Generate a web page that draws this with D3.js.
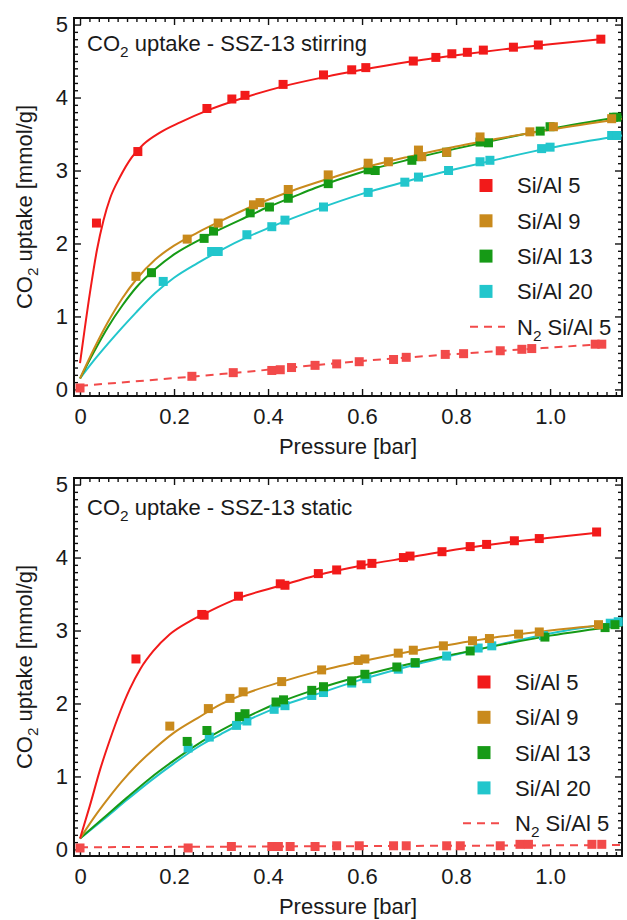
<!DOCTYPE html>
<html>
<head>
<meta charset="utf-8">
<script src="https://cdn.jsdelivr.net/npm/d3@7/dist/d3.min.js"></script>
<style>
  body { margin: 0; background: #fff; }
  svg { display: block; }
  text { font-family: "Liberation Sans", Arial, Helvetica, sans-serif; fill: #1a1a1a; }
</style>
</head>
<body>
<svg id="chart" width="627" height="920"></svg>
<script>
// ---- tick labels & legend ----
const xTicks = [0, 0.2, 0.4, 0.6, 0.8, 1.0];
const yTicks = [0, 1, 2, 3, 4, 5];
const legendLabels = ["Si/Al 5", "Si/Al 9", "Si/Al 13", "Si/Al 20"];

// ---- SSZ-13, stirring: measured points [pressure bar, uptake mmol/g] ----
const stirSi5 = [[0.035,2.28],[0.123,3.26],[0.27,3.85],[0.323,3.98],[0.351,4.03],[0.432,4.18],[0.518,4.31],[0.578,4.38],[0.608,4.41],[0.709,4.50],[0.757,4.55],[0.791,4.60],[0.824,4.62],[0.858,4.65],[0.922,4.69],[0.975,4.72],[1.108,4.80]];
const stirSi9 = [[0.119,1.55],[0.228,2.06],[0.294,2.28],[0.369,2.53],[0.383,2.56],[0.443,2.74],[0.528,2.94],[0.613,3.10],[0.656,3.12],[0.72,3.28],[0.727,3.19],[0.78,3.25],[0.851,3.46],[0.957,3.53],[1.007,3.60],[1.131,3.71]];
const stirSi13 = [[0.152,1.60],[0.264,2.07],[0.284,2.17],[0.362,2.42],[0.403,2.50],[0.443,2.62],[0.528,2.82],[0.613,3.01],[0.628,3.00],[0.706,3.14],[0.72,3.19],[0.78,3.25],[0.851,3.39],[0.869,3.38],[0.979,3.54],[1.0,3.60],[1.135,3.73],[1.142,3.73]];
const stirSi20 = [[0.177,1.48],[0.28,1.89],[0.294,1.89],[0.355,2.12],[0.408,2.23],[0.436,2.32],[0.518,2.50],[0.613,2.70],[0.691,2.84],[0.72,2.91],[0.784,3.00],[0.851,3.12],[0.872,3.14],[0.982,3.30],[1.0,3.32],[1.131,3.48],[1.142,3.48]];
const stirN2 = [[0,0.02],[0.238,0.18],[0.326,0.23],[0.408,0.26],[0.426,0.27],[0.45,0.30],[0.5,0.33],[0.546,0.35],[0.594,0.38],[0.667,0.41],[0.694,0.44],[0.777,0.48],[0.816,0.49],[0.894,0.53],[0.94,0.55],[0.961,0.56],[1.096,0.62],[1.11,0.62]];

// ---- SSZ-13, stirring: fitted isotherm curves ----
const stirFit5 = [[0,0.36],[0.021,1.32],[0.036,1.91],[0.05,2.32],[0.064,2.62],[0.085,2.91],[0.11,3.18],[0.135,3.36],[0.17,3.52],[0.213,3.66],[0.27,3.82],[0.35,4.00],[0.43,4.15],[0.52,4.28],[0.6,4.38],[0.7,4.49],[0.8,4.58],[0.9,4.66],[1.0,4.73],[1.108,4.80]];
const stirFit9 = [[0,0.15],[0.03,0.56],[0.06,0.93],[0.09,1.25],[0.12,1.51],[0.16,1.78],[0.2,1.97],[0.25,2.15],[0.3,2.31],[0.37,2.52],[0.45,2.72],[0.53,2.89],[0.6,3.03],[0.7,3.19],[0.8,3.33],[0.9,3.45],[1.0,3.56],[1.153,3.71]];
const stirFit13 = [[0,0.15],[0.03,0.52],[0.06,0.86],[0.09,1.15],[0.12,1.40],[0.16,1.65],[0.2,1.85],[0.26,2.07],[0.3,2.20],[0.36,2.38],[0.4,2.50],[0.45,2.63],[0.5,2.76],[0.6,2.98],[0.7,3.15],[0.8,3.30],[0.9,3.44],[1.0,3.57],[1.153,3.74]];
const stirFit20 = [[0,0.15],[0.03,0.40],[0.06,0.63],[0.09,0.85],[0.12,1.06],[0.16,1.32],[0.2,1.53],[0.25,1.73],[0.3,1.91],[0.36,2.10],[0.4,2.21],[0.45,2.34],[0.5,2.46],[0.6,2.68],[0.7,2.86],[0.8,3.02],[0.9,3.17],[1.0,3.31],[1.153,3.48]];
const stirFitN2 = [[0,0.05],[0.3,0.21],[0.6,0.39],[0.9,0.53],[1.11,0.62]];

// ---- SSZ-13, static: measured points ----
const statSi5 = [[0.119,2.61],[0.259,3.22],[0.264,3.21],[0.337,3.47],[0.426,3.64],[0.436,3.62],[0.507,3.78],[0.546,3.83],[0.598,3.90],[0.621,3.92],[0.688,4.00],[0.702,4.02],[0.77,4.08],[0.83,4.15],[0.865,4.18],[0.924,4.23],[0.977,4.26],[1.099,4.35]];
const statSi9 = [[0.191,1.69],[0.273,1.93],[0.319,2.07],[0.347,2.16],[0.429,2.30],[0.514,2.46],[0.592,2.59],[0.606,2.61],[0.677,2.69],[0.709,2.73],[0.773,2.79],[0.835,2.86],[0.871,2.89],[0.933,2.95],[0.977,2.98],[1.103,3.08]];
const statSi13 = [[0.228,1.48],[0.27,1.63],[0.339,1.82],[0.351,1.86],[0.417,2.02],[0.433,2.05],[0.493,2.18],[0.518,2.23],[0.578,2.31],[0.606,2.40],[0.674,2.50],[0.713,2.56],[0.83,2.72],[0.989,2.91],[1.117,3.04],[1.138,3.08]];
const statSi20 = [[0.23,1.39],[0.275,1.54],[0.333,1.70],[0.355,1.76],[0.413,1.92],[0.436,1.97],[0.493,2.11],[0.518,2.15],[0.578,2.28],[0.61,2.34],[0.677,2.47],[0.713,2.55],[0.78,2.65],[0.847,2.76],[0.876,2.79],[0.986,2.93],[1.128,3.10],[1.145,3.12]];
const statN2 = [[0,0.02],[0.23,0.02],[0.322,0.04],[0.408,0.04],[0.422,0.04],[0.447,0.04],[0.5,0.04],[0.546,0.05],[0.594,0.05],[0.667,0.05],[0.694,0.05],[0.78,0.05],[0.809,0.05],[0.894,0.05],[0.936,0.07],[0.954,0.07],[1.089,0.07],[1.11,0.07]];

// ---- SSZ-13, static: fitted isotherm curves ----
const statFit5 = [[0,0.15],[0.021,0.60],[0.043,1.10],[0.064,1.51],[0.085,1.88],[0.106,2.20],[0.128,2.47],[0.156,2.72],[0.191,2.95],[0.234,3.13],[0.277,3.27],[0.34,3.45],[0.43,3.62],[0.5,3.75],[0.6,3.89],[0.7,4.00],[0.8,4.11],[0.9,4.20],[1.0,4.27],[1.10,4.34]];
const statFit9 = [[0,0.15],[0.03,0.44],[0.06,0.70],[0.09,0.94],[0.12,1.15],[0.16,1.39],[0.2,1.60],[0.25,1.80],[0.3,1.99],[0.35,2.13],[0.43,2.30],[0.5,2.43],[0.6,2.58],[0.7,2.71],[0.8,2.82],[0.9,2.92],[1.0,3.00],[1.153,3.10]];
const statFit13 = [[0,0.15],[0.05,0.43],[0.1,0.71],[0.15,0.98],[0.2,1.22],[0.25,1.44],[0.3,1.63],[0.35,1.80],[0.43,2.03],[0.5,2.19],[0.6,2.38],[0.7,2.54],[0.8,2.68],[0.9,2.81],[1.0,2.93],[1.153,3.07]];
const statFit20 = [[0,0.15],[0.05,0.41],[0.1,0.68],[0.15,0.94],[0.2,1.18],[0.25,1.40],[0.3,1.58],[0.35,1.75],[0.43,1.97],[0.5,2.12],[0.6,2.33],[0.7,2.51],[0.8,2.67],[0.9,2.82],[1.0,2.96],[1.153,3.12]];
const statFitN2 = [[0,0.03],[1.153,0.06]];

// ---- styling ----
const colors = { si5: "#f21a1a", si9: "#c98a1c", si13: "#169a16", si20: "#22c6cc", n2: "#f24a4a" };

const svg = d3.select("#chart");
const plotLeft = 74, plotRight = 622, plotH = 378;
const x = d3.scaleLinear().domain([-0.0128, 1.153]).range([plotLeft, plotRight]);

const xMinor = d3.range(1, 58).map(i => i * 0.02).filter(v => Math.abs(v / 0.2 - Math.round(v / 0.2)) > 1e-6);
const yMinor = d3.range(0, 51).map(i => i * 0.1).filter(v => Math.abs(v - Math.round(v)) > 1e-6);

function subText(sel, before, sub, after, fs) {
  sel.append("tspan").text(before);
  sel.append("tspan").attr("font-size", fs * 0.7).attr("dy", fs * 0.28).text(sub);
  sel.append("tspan").attr("dy", -fs * 0.28).text(after);
}

function drawPanel(top, titleRest, pts, fits, legendY, legendSqX, legendTextX, dashX0, dashX1, titleY) {
  const y = d3.scaleLinear().domain([-0.09, 5.09]).range([top + plotH, top]);
  const g = svg.append("g");
  const fs = 22;

  const styleAxis = a => {
    a.select(".domain").remove();
    a.selectAll(".tick line").attr("stroke", "#111").attr("stroke-width", 1.4);
    a.selectAll("text").attr("font-size", fs).attr("font-family", "Liberation Sans, Arial, sans-serif").attr("fill", "#1a1a1a");
  };

  // bottom axis with labels
  g.append("g").attr("transform", `translate(0,${top + plotH})`)
    .call(d3.axisBottom(x).tickValues(xTicks).tickSize(-7).tickPadding(12).tickFormat(d => d === 0 ? "0" : d3.format(".1f")(d)))
    .call(styleAxis);
  g.append("g").attr("transform", `translate(0,${top + plotH})`)
    .call(d3.axisBottom(x).tickValues(xMinor).tickSize(-4).tickFormat(""))
    .call(styleAxis);
  // top mirror ticks
  g.append("g").attr("transform", `translate(0,${top})`)
    .call(d3.axisTop(x).tickValues(xTicks).tickSize(-7).tickFormat(""))
    .call(styleAxis);
  g.append("g").attr("transform", `translate(0,${top})`)
    .call(d3.axisTop(x).tickValues(xMinor).tickSize(-4).tickFormat(""))
    .call(styleAxis);
  // left axis with labels
  g.append("g").attr("transform", `translate(${plotLeft},0)`)
    .call(d3.axisLeft(y).tickValues(yTicks).tickSize(-7).tickPadding(6).tickFormat(d3.format("d")))
    .call(styleAxis);
  g.append("g").attr("transform", `translate(${plotLeft},0)`)
    .call(d3.axisLeft(y).tickValues(yMinor).tickSize(-4).tickFormat(""))
    .call(styleAxis);
  // right mirror ticks
  g.append("g").attr("transform", `translate(${plotRight},0)`)
    .call(d3.axisRight(y).tickValues(yTicks).tickSize(-7).tickFormat(""))
    .call(styleAxis);
  g.append("g").attr("transform", `translate(${plotRight},0)`)
    .call(d3.axisRight(y).tickValues(yMinor).tickSize(-4).tickFormat(""))
    .call(styleAxis);

  // frame
  g.append("rect").attr("x", plotLeft).attr("y", top).attr("width", plotRight - plotLeft).attr("height", plotH)
    .attr("fill", "none").attr("stroke", "#111").attr("stroke-width", 2);

  const line = d3.line().x(d => x(d[0])).y(d => y(d[1])).curve(d3.curveMonotoneX);
  const keys = ["n2", "si20", "si13", "si9", "si5"];

  // fitted curves
  keys.forEach(k => {
    g.append("path").datum(fits[k]).attr("d", line)
      .attr("fill", "none").attr("stroke", colors[k]).attr("stroke-width", 2)
      .attr("stroke-dasharray", k === "n2" ? "8,6" : null);
  });
  // measured points
  const ms = 9;
  keys.forEach(k => {
    g.append("g").selectAll("rect").data(pts[k]).join("rect")
      .attr("x", d => x(d[0]) - ms / 2).attr("y", d => y(d[1]) - ms / 2)
      .attr("width", ms).attr("height", ms).attr("fill", colors[k]);
  });

  // panel title
  const t = g.append("text").attr("x", 87).attr("y", titleY).attr("font-size", fs);
  subText(t, "CO", "2", " uptake - SSZ-13 " + titleRest, fs);

  // axis titles
  g.append("text").attr("x", (plotLeft + plotRight) / 2).attr("y", top + plotH + 58)
    .attr("text-anchor", "middle").attr("font-size", fs).text("Pressure [bar]");
  const yl = g.append("text").attr("transform", `translate(32,${top + plotH / 2}) rotate(-90)`)
    .attr("text-anchor", "middle").attr("font-size", fs);
  subText(yl, "CO", "2", " uptake [mmol/g]", fs);

  // legend
  const legKeys = ["si5", "si9", "si13", "si20"];
  legKeys.forEach((k, i) => {
    const cy = legendY + i * 35.3;
    g.append("rect").attr("x", legendSqX - 6.5).attr("y", cy - 6.5).attr("width", 13).attr("height", 13).attr("fill", colors[k]);
    g.append("text").attr("x", legendTextX).attr("y", cy).attr("dy", "0.36em").attr("font-size", fs).text(legendLabels[i]);
  });
  const ny = legendY + 4 * 35.3;
  g.append("line").attr("x1", dashX0).attr("x2", dashX1).attr("y1", ny).attr("y2", ny)
    .attr("stroke", colors.n2).attr("stroke-width", 2).attr("stroke-dasharray", "8,6");
  const nt = g.append("text").attr("x", legendTextX).attr("y", ny).attr("dy", "0.36em").attr("font-size", fs);
  subText(nt, "N", "2", " Si/Al 5", fs);
}

drawPanel(18, "stirring",
  { si5: stirSi5, si9: stirSi9, si13: stirSi13, si20: stirSi20, n2: stirN2 },
  { si5: stirFit5, si9: stirFit9, si13: stirFit13, si20: stirFit20, n2: stirFitN2 },
  185.5, 486, 517, 470, 505, 51);

drawPanel(478, "static",
  { si5: statSi5, si9: statSi9, si13: statSi13, si20: statSi20, n2: statN2 },
  { si5: statFit5, si9: statFit9, si13: statFit13, si20: statFit20, n2: statFitN2 },
  682, 484, 515, 463, 503, 515);
</script>
</body>
</html>
